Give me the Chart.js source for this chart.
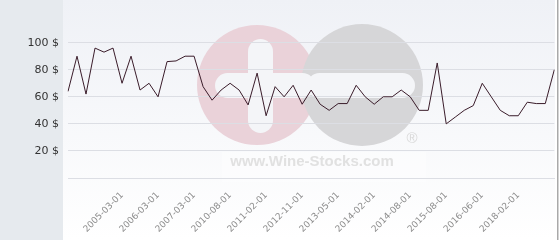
<!DOCTYPE html>
<html>
<head>
<meta charset="utf-8">
<script src="https://cdn.jsdelivr.net/npm/chart.js@4/dist/chart.umd.min.js"></script>
<style>
  html, body { margin: 0; padding: 0; background: #fff; }
  #wrap { width: 560px; height: 240px; }
</style>
</head>
<body>
<div id="wrap"><canvas id="price-chart" width="560" height="240"></canvas></div>
<script>
// price history, one entry per quote
const prices = [
  64, 90, 62, 96, 93, 96, 70, 90, 65, 70,
  60, 86, 86.5, 90, 90, 67.5, 57.5, 65, 70, 65,
  54, 77.5, 46, 67.5, 60, 68.5, 54.5, 65, 54.5, 50,
  55, 55, 68.5, 60, 54.5, 60, 60, 65, 60, 50,
  50, 85, 40, 45, 50, 53.5, 70, 60, 50, 46,
  46, 56, 55, 55, 80
];

// quote dates (only the labelled ones are known)
const dates = [
  '', '', '', '', '', '',
  '2005-03-01', '', '', '',
  '2006-03-01', '', '', '',
  '2007-03-01', '', '', '',
  '2010-08-01', '', '', '',
  '2011-02-01', '', '', '',
  '2012-11-01', '', '', '',
  '2013-05-01', '', '', '',
  '2014-02-01', '', '', '',
  '2014-08-01', '', '', '',
  '2015-08-01', '', '', '',
  '2016-06-01', '', '', '',
  '2018-02-01', '', '', '', ''
];

const yTicks = [20, 40, 60, 80, 100];

// ── Background + watermark ──────────────────────────────────────────────
const backdrop = {
  id: 'backdrop',
  beforeDraw(chart) {
    const { ctx, width, height } = chart;
    ctx.save();
    ctx.fillStyle = '#ffffff';
    ctx.fillRect(0, 0, width, height);
    ctx.fillStyle = '#e6eaee';
    ctx.fillRect(0, 0, 63, height);
    const g = ctx.createLinearGradient(0, 0, 0, height);
    g.addColorStop(0, '#eff1f6');
    g.addColorStop(1, '#ffffff');
    ctx.fillStyle = g;
    ctx.fillRect(63, 0, 492, height);
    ctx.fillStyle = '#a9a9a9';
    ctx.fillRect(557, 0, 1.5, height);

    // logo
    ctx.fillStyle = '#ead2d9';
    ctx.beginPath(); ctx.arc(257, 85, 60, 0, Math.PI * 2); ctx.fill();
    ctx.fillStyle = '#d6d6d8';
    ctx.beginPath(); ctx.arc(362, 85, 61, 0, Math.PI * 2); ctx.fill();
    ctx.fillStyle = '#f4f5f8';
    ctx.beginPath(); ctx.roundRect(248, 39, 25, 94, 12.5); ctx.fill();
    ctx.beginPath(); ctx.roundRect(215, 73, 100, 25, 12.5); ctx.fill();
    ctx.beginPath(); ctx.roundRect(307, 73, 108, 25, 12.5); ctx.fill();

    ctx.fillStyle = 'rgba(255,255,255,0.4)';
    ctx.fillRect(222, 152, 204, 30);
    ctx.fillStyle = '#e1e1e1';
    ctx.font = 'bold 15px "Liberation Sans", Arial, sans-serif';
    ctx.textAlign = 'center';
    ctx.textBaseline = 'alphabetic';
    ctx.fillText('www.Wine-Stocks.com', 312, 166);
    ctx.fillStyle = '#d8d8d8';
    ctx.font = '15px "Liberation Sans", Arial, sans-serif';
    ctx.textBaseline = 'middle';
    ctx.fillText('®', 412, 139);
    ctx.restore();
  }
};

new Chart(document.getElementById('price-chart').getContext('2d'), {
  type: 'line',
  data: {
    labels: dates,
    datasets: [{
      data: prices,
      borderColor: '#3a1c2a',
      borderWidth: 1,
      pointRadius: 0,
      tension: 0,
      fill: false,
    }],
  },
  options: {
    responsive: false,
    animation: false,
    layout: { padding: { top: 0, right: 5.7, bottom: 0, left: 0 } },
    plugins: { legend: { display: false }, tooltip: { enabled: false } },
    scales: {
      x: {
        grid: { display: false },
        border: { display: true, color: '#dcdee4', width: 1 },
        ticks: {
          autoSkip: false, minRotation: 45, maxRotation: 45, padding: 4,
          color: '#8c8c8c', font: { family: 'DejaVu Sans', size: 9 },
          callback: (v, i) => dates[i] || null,
        },
        afterFit: s => { s.height = 62; },
      },
      y: {
        min: 0, max: 120,
        grid: { color: '#dcdee4', drawTicks: false },
        border: { display: false },
        ticks: {
          stepSize: 20, padding: 9,
          color: '#333333', font: { family: 'DejaVu Sans', size: 11 },
          callback: v => yTicks.includes(v) ? v + ' $' : null,
        },
        afterFit: s => { s.width = 68; },
      },
    },
  },
  plugins: [backdrop],
});
</script>
</body>
</html>
